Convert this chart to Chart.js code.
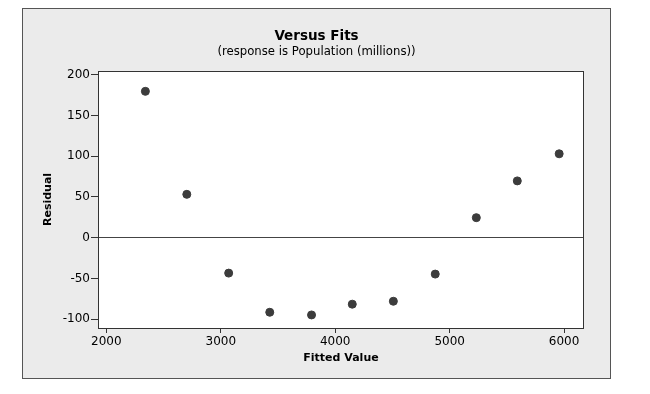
<!DOCTYPE html>
<html>
<head>
<meta charset="utf-8">
<script src="https://cdn.jsdelivr.net/npm/chart.js@4.4.0/dist/chart.umd.min.js"></script>
<style>
  html, body { margin: 0; padding: 0; background: #ffffff; }
  #wrap { width: 650px; height: 394px; position: relative; }
</style>
</head>
<body>
<div id="wrap"><canvas id="chart"></canvas></div>
<script>
// valori (fitted value, residual)
const fitted = [2341, 2703, 3069, 3428, 3793, 4149, 4508, 4874, 5233, 5591, 5957];
const residuals = [179.5, 53.2, -43.4, -91.4, -94.7, -81.5, -77.9, -44.6, 24.6, 69.7, 102.9];
const xTicks = [2000, 3000, 4000, 5000, 6000];
const yTicks = [-100, -50, 0, 50, 100, 150, 200];

Chart.defaults.font.family = "'DejaVu Sans', Verdana, sans-serif";
Chart.defaults.color = "#000";

// sfondo grigio del pannello e riquadro bianco del grafico
const panelPlugin = {
  id: "panel",
  beforeDraw(chart) {
    const ctx = chart.ctx;
    const a = chart.chartArea;
    ctx.save();
    ctx.fillStyle = "#ebebeb";
    ctx.fillRect(22, 8, 589, 370);
    ctx.strokeStyle = "#555";
    ctx.lineWidth = 1;
    ctx.strokeRect(22.5, 8.5, 588, 370);
    ctx.fillStyle = "#fff";
    ctx.fillRect(a.left, a.top, a.right - a.left, a.bottom - a.top);
    ctx.restore();
  },
  afterDraw(chart) {
    const ctx = chart.ctx;
    const a = chart.chartArea;
    ctx.save();
    ctx.strokeStyle = "#333";
    ctx.lineWidth = 1;
    ctx.strokeRect(Math.round(a.left) + 0.5, Math.round(a.top) + 0.5,
      Math.round(a.right - a.left) - 1, Math.round(a.bottom - a.top));
    ctx.restore();
  },
};

const points = fitted.map((x, i) => ({ x: x, y: residuals[i] }));

new Chart(document.getElementById("chart"), {
  type: "scatter",
  data: {
    datasets: [
      {
        data: points,
        backgroundColor: "#3c3c3c",
        borderColor: "#3c3c3c",
        pointRadius: 4,
        pointHoverRadius: 4,
      },
    ],
  },
  options: {
    responsive: true,
    maintainAspectRatio: false,
    animation: false,
    layout: { padding: { left: 22, right: 39, top: 8, bottom: 16 } },
    plugins: {
      legend: { display: false },
      tooltip: { enabled: false },
      title: {
        display: true,
        text: "Versus Fits",
        font: { size: 13.5, weight: "bold" },
        padding: { top: 19.9, bottom: 0 },
      },
      subtitle: {
        display: true,
        text: "(response is Population (millions))",
        font: { size: 11.7 },
        padding: { top: 0.4, bottom: 12.4 },
      },
    },
    scales: {
      x: {
        type: "linear",
        min: 1927,
        max: 6174,
        afterBuildTicks: (s) => { s.ticks = xTicks.map((v) => ({ value: v })); },
        afterFit: (s) => { s.height = 50; },
        border: { display: false },
        grid: { drawOnChartArea: false, tickLength: 5, tickColor: "#333" },
        ticks: {
          font: { size: 12 },
          padding: 1.5,
          maxRotation: 0,
          autoSkip: false,
          callback: (v) => String(v),
        },
        title: {
          display: true,
          text: "Fitted Value",
          font: { size: 11, weight: "bold" },
          padding: { top: 0, bottom: 13.4 },
        },
      },
      y: {
        type: "linear",
        min: -110.7,
        max: 204.5,
        afterBuildTicks: (s) => { s.ticks = yTicks.map((v) => ({ value: v })); },
        afterFit: (s) => { s.width = 76; },
        border: { display: false },
        grid: {
          tickLength: 7,
          tickColor: "#333",
          color: (c) => (c.tick && c.tick.value === 0 ? "#444" : "rgba(0,0,0,0)"),
        },
        ticks: { font: { size: 12 }, padding: 1, autoSkip: false, callback: (v) => String(v) },
        title: {
          display: true,
          text: "Residual",
          font: { size: 11, weight: "bold" },
          padding: { top: 19.1, bottom: 0 },
        },
      },
      y2: {
        type: "linear",
        position: "right",
        display: true,
        afterFit: (s) => { s.width = 27; },
        border: { display: false },
        grid: { display: false },
        ticks: { display: false },
      },
    },
  },
  plugins: [panelPlugin],
});
</script>
</body>
</html>
